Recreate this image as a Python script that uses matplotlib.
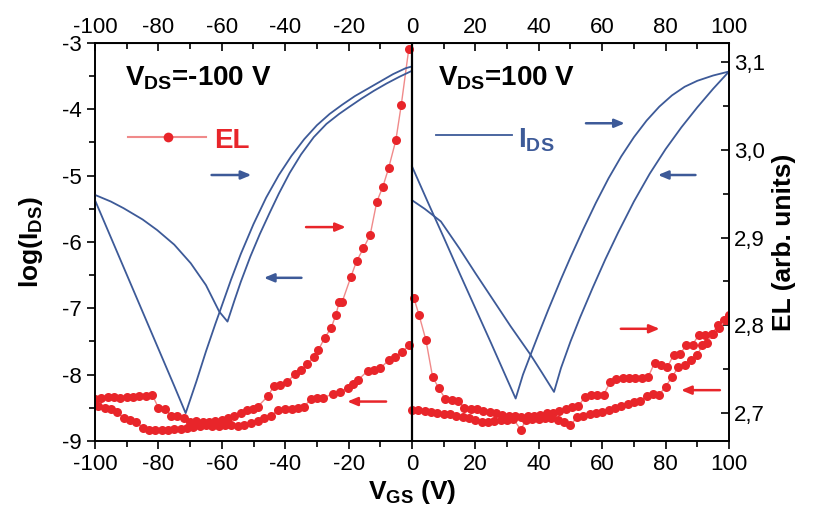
import matplotlib
matplotlib.use("Agg")
import matplotlib.pyplot as plt
from matplotlib.ticker import MultipleLocator, FuncFormatter

plt.rcParams['font.family'] = ['Liberation Sans', 'DejaVu Sans']
plt.rcParams['mathtext.fontset'] = 'custom'
plt.rcParams['mathtext.rm'] = 'Liberation Sans'
plt.rcParams['mathtext.bf'] = 'Liberation Sans:bold'

# log(I_DS) sweeps, V_DS = -100 V
ids_n_a_x = [-100, -95, -90, -85, -80, -75, -71.4, -68, -65, -62, -60.8, -57.1, -54, -50, -46, -42, -38,
             -34, -30, -26, -22, -18, -14, -10, -6, -2, -0.5]
ids_n_a_y = [-5.37, -5.93, -6.49, -7.05, -7.61, -8.17, -8.58, -8.1, -7.65, -7.23, -7.07, -6.57, -6.18, -5.73,
             -5.33, -4.99, -4.7, -4.45, -4.24, -4.07, -3.93, -3.8, -3.69, -3.58, -3.47, -3.38, -3.36]
ids_n_b_x = [-100, -95, -91, -85, -80.4, -75, -69.8, -65, -60.8, -58.2, -56, -54, -51, -48, -45, -42, -38.6,
             -35, -31, -27, -23, -20, -16, -12, -8, -4, -0.5]
ids_n_b_y = [-5.29, -5.39, -5.49, -5.66, -5.82, -6.04, -6.32, -6.65, -7.05, -7.2, -6.88, -6.6, -6.22, -5.88,
             -5.57, -5.27, -4.96, -4.68, -4.42, -4.22, -4.07, -3.97, -3.84, -3.72, -3.61, -3.51, -3.43]

# log(I_DS) sweeps, V_DS = 100 V
ids_p_a_x = [0, 5, 10, 15, 20, 25, 30, 32.7, 35, 37.4, 40, 43, 47, 50, 54, 58, 62, 66, 70, 74, 78, 82, 86,
             90, 95, 100]
ids_p_a_y = [-4.86, -5.4, -5.93, -6.47, -7.0, -7.53, -8.07, -8.36, -8.0, -7.7, -7.38, -7.02, -6.56, -6.23,
             -5.81, -5.41, -5.04, -4.71, -4.42, -4.17, -3.96, -3.79, -3.66, -3.57, -3.49, -3.43]
ids_p_b_x = [0, 4, 9.1, 15, 20, 25, 31.1, 37.4, 41, 44.8, 47, 50, 53, 57, 61, 65, 70, 75, 80, 85, 90, 95, 100]
ids_p_b_y = [-5.37, -5.5, -5.69, -6.1, -6.47, -6.83, -7.27, -7.7, -7.97, -8.26, -7.9, -7.5, -7.14, -6.69,
             -6.26, -5.86, -5.39, -4.97, -4.6, -4.27, -3.97, -3.69, -3.43]

# EL, V_DS = -100 V
el_n_up_x = [-100, -98, -96, -94, -92, -90, -88, -86, -84, -82, -80, -78, -76, -74, -72, -70, -68, -66, -64,
             -62, -60, -58, -56, -54, -52, -50, -48.7, -45.5, -43.5, -41.5, -39.5, -37, -35, -33, -31, -29.5,
             -27.5, -25.5, -24, -23, -22, -19.3, -17.5, -15.3, -13.2, -11.1, -9.2, -7.4, -5.1, -3.4, -1]
el_n_up_y = [2.716, 2.717, 2.718, 2.718, 2.717, 2.718, 2.718, 2.719, 2.719, 2.721, 2.706, 2.705, 2.697, 2.696,
             2.694, 2.690, 2.691, 2.690, 2.690, 2.691, 2.692, 2.694, 2.697, 2.700, 2.703, 2.705, 2.707, 2.719,
             2.731, 2.732, 2.735, 2.744, 2.749, 2.756, 2.764, 2.772, 2.786, 2.797, 2.812, 2.826, 2.827, 2.855,
             2.873, 2.888, 2.903, 2.941, 2.958, 2.979, 3.011, 3.051, 3.1156]
el_n_dn_x = [-1, -3, -5.3, -7.4, -10, -12, -14, -16.9, -18.5, -20.1, -22.8, -25, -28, -30, -32, -34, -36, -38,
             -40, -42.3, -44.5, -46.6, -48.7, -50.8, -53, -55, -57, -59, -61, -63, -65, -67, -69, -71, -73, -75,
             -77, -79, -81, -83, -85, -87, -89, -91, -93, -95, -97, -99]
el_n_dn_y = [2.777, 2.770, 2.764, 2.760, 2.751, 2.749, 2.748, 2.738, 2.733, 2.728, 2.724, 2.722, 2.717, 2.717,
             2.716, 2.707, 2.706, 2.705, 2.704, 2.703, 2.697, 2.694, 2.691, 2.688, 2.686, 2.685, 2.686, 2.686,
             2.685, 2.685, 2.686, 2.685, 2.684, 2.683, 2.682, 2.682, 2.681, 2.681, 2.681, 2.681, 2.683, 2.690,
             2.692, 2.694, 2.701, 2.704, 2.706, 2.708]

# EL, V_DS = 100 V
el_p_up_x = [0.6, 2.2, 4.4, 6.5, 8.5, 10.5, 12.5, 14.5, 16.5, 18.5, 20.5, 22.5, 24.5, 26.5, 28.5, 30.5, 32.5,
             34.5, 36.5, 38.5, 40.5, 42.5, 44.5, 46.5, 48.5, 50.5, 52.5, 54.5, 56.5, 58.5, 60.5, 62.5, 64.5,
             66.5, 68.5, 70.5, 72.5, 74.5, 76.5, 78.5, 80.5, 82.5, 84.5, 86.5, 88.5, 90.5, 92.5, 94.5, 96.5,
             98.5, 100]
el_p_up_y = [2.831, 2.812, 2.783, 2.741, 2.728, 2.716, 2.715, 2.714, 2.706, 2.705, 2.704, 2.702, 2.701, 2.700,
             2.698, 2.697, 2.696, 2.695, 2.696, 2.697, 2.698, 2.700, 2.700, 2.702, 2.705, 2.707, 2.708, 2.718,
             2.720, 2.720, 2.721, 2.735, 2.739, 2.740, 2.740, 2.740, 2.740, 2.741, 2.757, 2.755, 2.752, 2.766,
             2.767, 2.777, 2.778, 2.789, 2.789, 2.790, 2.800, 2.806, 2.812]
el_p_dn_x = [0, 2, 4, 6, 8, 10, 12, 14, 16, 18, 20, 22, 24, 26, 28, 30, 32, 34.3, 36, 38, 40, 42, 44, 46, 48,
             50, 52, 54, 56, 58, 60, 62, 64, 66, 68, 70, 72, 74, 76, 78, 80, 82, 84, 86, 88, 90, 91.5, 93, 95,
             97, 99]
el_p_dn_y = [2.703, 2.703, 2.702, 2.701, 2.700, 2.699, 2.699, 2.697, 2.695, 2.694, 2.692, 2.690, 2.690, 2.691,
             2.692, 2.692, 2.693, 2.681, 2.692, 2.693, 2.693, 2.694, 2.694, 2.692, 2.690, 2.686, 2.695, 2.697,
             2.699, 2.700, 2.701, 2.703, 2.706, 2.708, 2.710, 2.712, 2.714, 2.719, 2.722, 2.721, 2.730, 2.741,
             2.752, 2.755, 2.760, 2.766, 2.777, 2.780, 2.790, 2.797, 2.806]

blue = '#3d5a98'
red = '#e8252a'
red_line = '#f08a8a'

fig = plt.figure(figsize=(8.17, 5.16), dpi=100)
ax = fig.add_axes([95 / 817, 1 - 441 / 516, 634 / 817, 398 / 516])
ax2 = ax.twinx()
ax.set_zorder(ax2.get_zorder() + 1)
ax.patch.set_visible(False)

# EL (right axis)
for xs, ys in [(el_n_up_x, el_n_up_y), (el_n_dn_x, el_n_dn_y),
               (el_p_up_x, el_p_up_y), (el_p_dn_x, el_p_dn_y)]:
    ax2.plot(xs, ys, '-', color=red_line, lw=1)
    ax2.plot(xs, ys, 'o', color=red, ms=6.5, mec='none')

# I_DS (left axis)
for xs, ys in [(ids_n_a_x, ids_n_a_y), (ids_n_b_x, ids_n_b_y),
               (ids_p_a_x, ids_p_a_y), (ids_p_b_x, ids_p_b_y)]:
    ax.plot(xs, ys, '-', color=blue, lw=1.3)

ax.axvline(0, color='black', lw=1.6)

ax.set_xlim(-100, 100)
ax.set_ylim(-9, -3)
ax2.set_ylim(2.668, 3.122)

ax.xaxis.set_major_locator(MultipleLocator(20))
ax.xaxis.set_minor_locator(MultipleLocator(10))
ax.yaxis.set_major_locator(MultipleLocator(1))
ax.yaxis.set_minor_locator(MultipleLocator(0.5))
ax2.yaxis.set_major_locator(MultipleLocator(0.1))
ax2.yaxis.set_minor_locator(MultipleLocator(0.05))
ax2.yaxis.set_major_formatter(FuncFormatter(lambda v, p: ('%.1f' % v).replace('.', ',')))
ax.xaxis.set_major_formatter(FuncFormatter(lambda v, p: '%d' % v))
ax.yaxis.set_major_formatter(FuncFormatter(lambda v, p: '%d' % v))

ax.tick_params(which='both', direction='out', labelsize=16, width=1.2, top=False, right=False)
ax.tick_params(which='major', length=6)
ax.tick_params(which='minor', length=4)
ax2.tick_params(which='both', direction='in', labelsize=16, width=1.2)
ax2.tick_params(which='major', length=6)
ax2.tick_params(which='minor', length=4)

top = ax.secondary_xaxis('top')
top.xaxis.set_major_locator(MultipleLocator(20))
top.xaxis.set_minor_locator(MultipleLocator(10))
top.xaxis.set_major_formatter(FuncFormatter(lambda v, p: '%d' % v))
top.tick_params(which='both', direction='in', labelsize=16, width=1.2)
top.tick_params(which='major', length=6)
top.tick_params(which='minor', length=4)

for a in (ax, ax2):
    for s in a.spines.values():
        s.set_linewidth(1.2)

ax.set_xlabel('V$_{\\mathbf{GS}}$ (V)', fontsize=19, fontweight='bold', labelpad=2)
ax.set_ylabel('log(I$_{\\mathbf{DS}}$)', fontsize=19, fontweight='bold', labelpad=12)
ax2.set_ylabel('EL (arb. units)', fontsize=19, fontweight='bold', labelpad=5)

ax.text(-90.5, -3.63, 'V$_{\\mathbf{DS}}$=-100 V', fontsize=20, fontweight='bold')
ax.text(8.2, -3.63, 'V$_{\\mathbf{DS}}$=100 V', fontsize=20, fontweight='bold')

# legend-like labels
ax.plot([-89.5, -65], [-4.42, -4.42], color=red_line, lw=1.5)
ax.plot([-77], [-4.42], 'o', color=red, ms=7, mec='none')
ax.text(-62.5, -4.59, 'EL', fontsize=20, fontweight='bold', color=red)
ax.plot([7.5, 31.5], [-4.38, -4.38], color=blue, lw=1.3)
ax.text(33.5, -4.57, 'I$_{\\mathbf{DS}}$', fontsize=20, fontweight='bold', color=blue)

# sweep arrows
def arrow(a, x0, x1, y, c):
    a.annotate('', xy=(x1, y), xytext=(x0, y),
               arrowprops=dict(arrowstyle='-|>,head_length=0.6,head_width=0.25', color=c, lw=1.8))

arrow(ax, -64.1, -49.8, -4.99, blue)
arrow(ax, -34, -47.6, -6.54, blue)
arrow(ax, 54, 68, -4.21, blue)
arrow(ax, 90.3, 76.7, -4.99, blue)
arrow(ax2, -34.3, -20, 2.912, red)
arrow(ax2, -7.3, -21.3, 2.713, red)
arrow(ax2, 65, 79, 2.796, red)
arrow(ax2, 98, 84, 2.726, red)

fig.savefig('out.png', dpi=100)
